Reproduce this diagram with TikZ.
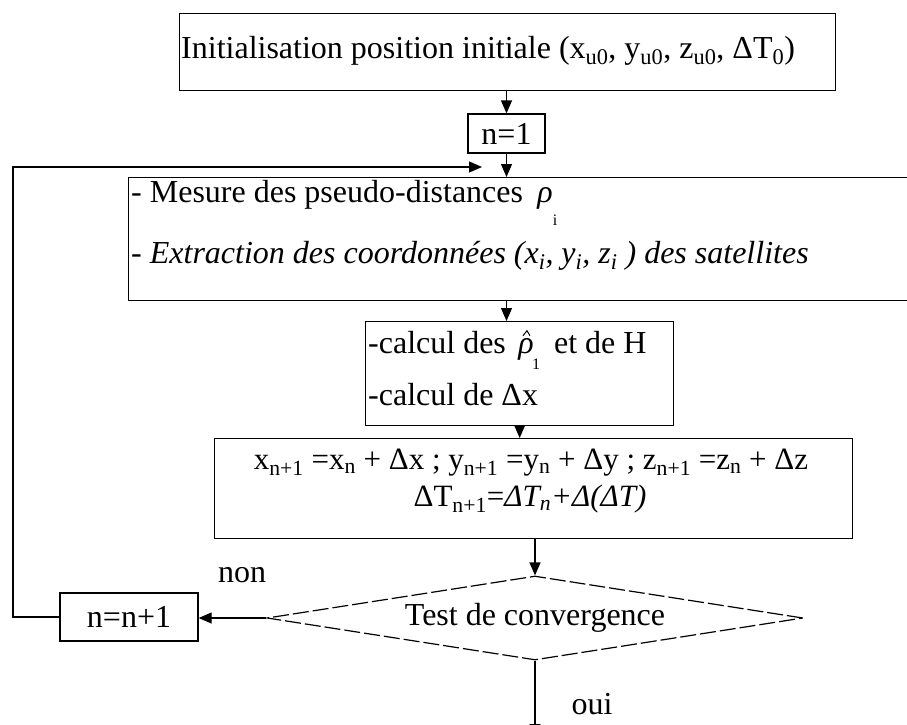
\documentclass[tikz,border=0pt]{standalone}
\usepackage{fontspec}
\setmainfont{Liberation Serif}
\usetikzlibrary{arrows.meta,shapes.geometric,calc}
\newcommand\rhoT{\textit{ρ}}
\begin{document}
\begin{tikzpicture}[x=1pt,y=-1pt,
  box/.style={draw, line width=1.3pt, rectangle, inner sep=0pt},
  arr/.style={draw, line width=1.3pt, -{Triangle[length=13pt,width=11pt]}},
  txt/.style={font=\fontsize{32}{38}\selectfont, inner sep=0pt},
  small/.style={font=\fontsize{16}{16}\selectfont, inner sep=0pt},
  ]
\useasboundingbox (0,0) rectangle (907,725);
% boxes
\node[box, minimum width=656pt, minimum height=77pt, anchor=north west] (b1) at (179,13) {};
\node[txt, anchor=west] (t1) at (181,51) {Initialisation position initiale (x\textsubscript{u0}, y\textsubscript{u0}, z\textsubscript{u0}, ΔT\textsubscript{0})};
\node[box, txt, minimum width=77pt, minimum height=39pt] (n1) at (506.5,133.5) {n=1};
\node[box, minimum width=800pt, minimum height=123pt, anchor=north west] (b2) at (128,177) {};
\node[txt, anchor=west] (m1) at (131,203) {- Mesure des pseudo-distances \hspace{0.2em}\rhoT\raisebox{-0.7em}{\fontsize{16}{16}\selectfont i}};
\node[txt, anchor=west] (m2) at (131,256) {- \textit{Extraction des coordonnées (x\textsubscript{i}, y\textsubscript{i}, z\textsubscript{i} ) des satellites}};
\node[box, minimum width=308pt, minimum height=104pt, anchor=north west] (b3) at (365,321) {};
\node[txt, anchor=west] (c1) at (368,343) {-calcul des};
\node[txt, anchor=base west] (rho) at ($(c1.base east)+(12,0)$) {\textit{ρ}};
\draw[line width=1pt] ($(rho.north)+(-3,-3)$) -- ($(rho.north)+(1,-8)$) -- ($(rho.north)+(4,-3)$);
\node[small, anchor=base west] (one) at ($(rho.base east)+(-2,16)$) {1};
\node[txt, anchor=base west] (c1b) at ($(rho.base east)+(20,0)$) {et de H};
\node[txt, anchor=west] (c2) at (368,395) {-calcul de Δx};
\node[box, minimum width=638pt, minimum height=100pt, anchor=north west] (b4) at (214,438) {};
\node[txt, font=\fontsize{31}{37}\selectfont] (e1) at (531,463) {x\textsubscript{n+1} =x\textsubscript{n} + Δx ; y\textsubscript{n+1} =y\textsubscript{n} + Δy ; z\textsubscript{n+1} =z\textsubscript{n} + Δz};
\node[txt, font=\fontsize{31}{37}\selectfont] (e2) at (530,499) {ΔT\textsubscript{n+1}=\textit{ΔT\textsubscript{n}+Δ(ΔT)}};
\node[draw, diamond, line width=1.2pt, dash pattern=on 16pt off 4pt, minimum width=536pt, minimum height=84pt, inner sep=0pt] (d) at (535,618) {};
\node[txt] (dt) at (d.center) {Test de convergence};
\node[box, txt, minimum width=138pt, minimum height=48pt] (n2) at (129,617) {n=n+1};
\node[txt] (non) at (242,575) {non};
\node[txt] (oui) at (592,704) {oui};
% connectors
\coordinate (fbc) at (13,617);
\coordinate (fb) at (482,167);
\coordinate (out) at (535,737);
\draw[arr] (n1.north |- b1.south) -- (n1.north);
\draw[arr] (n1.south) -- (n1.south |- b2.north);
\draw[arr] (n1.south |- b2.south) -- (n1.south |- b3.north);
\draw[arr] (b3.south) -- (b3.south |- b4.north);
\draw[arr] (d.north |- b4.south) -- (d.north);
\draw[arr] (d.west) -- (d.west -| n2.east);
\draw[arr] (n2.west) -- (n2.west -| fbc) |- (fb);
\draw[arr] (d.south) -- (out);
\end{tikzpicture}
\end{document}
